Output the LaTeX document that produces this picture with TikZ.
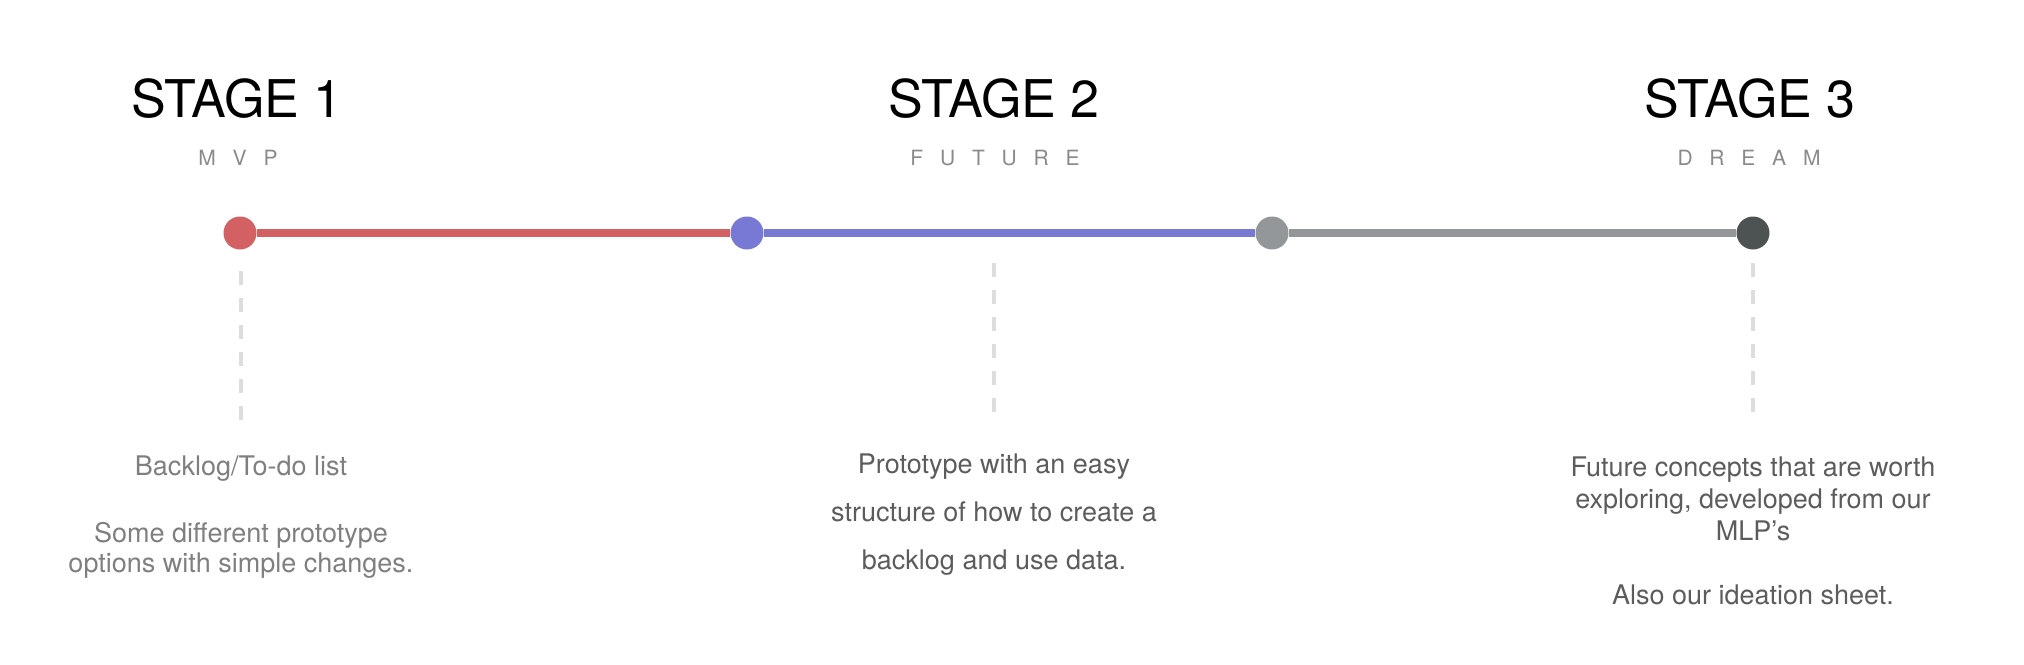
\documentclass[tikz,border=0pt]{standalone}
\usepackage{fontspec}
\setmainfont{TeX Gyre Heros}
\newfontfamily\spacedfont[LetterSpace=80]{TeX Gyre Heros}
\usetikzlibrary{positioning}
\definecolor{mvpred}{HTML}{D36063}
\definecolor{futblue}{HTML}{7879D4}
\definecolor{dreamgray}{HTML}{939799}
\definecolor{enddark}{HTML}{4D5352}
\definecolor{guidegray}{HTML}{DDDDDD}
\definecolor{subgray}{HTML}{8A8A8A}
\definecolor{lighttext}{HTML}{7F7F7F}
\definecolor{darktext}{HTML}{5C5C5C}

\begin{document}
\begin{tikzpicture}[
    x=0.5pt, y=-0.5pt,
    dot/.style    = {circle, fill=#1, minimum size=16.5pt, inner sep=0pt},
    track/.style  = {draw=#1, line width=4pt},
    guide/.style  = {draw=guidegray, line width=2pt, dash pattern=on 7pt off 6.5pt},
    title/.style  = {font=\fontsize{26}{30}\selectfont, anchor=base, inner sep=0pt},
    subtitle/.style = {font=\spacedfont\fontsize{10.5}{12}\selectfont, text=subgray,
                       anchor=base, inner sep=0pt},
    body/.style   = {align=center, anchor=north, inner sep=0pt},
  ]
  \useasboundingbox (0,0) rectangle (2024,664);

  % --- Stage headings --------------------------------------------------
  \node[title] (stage1) at (237,117) {STAGE 1};
  \node[title] (stage2) at (994,117) {STAGE 2};
  \node[title] (stage3) at (1750,117) {STAGE 3};

  \node[subtitle] (mvp)    at (238,165)  {MVP};
  \node[subtitle] (future) at (995,165)  {FUTURE};
  \node[subtitle] (dream)  at (1749,165) {DREAM};

  % --- Timeline --------------------------------------------------------
  \node[dot=mvpred]    (d1) at (240,233)  {};
  \node[dot=futblue]   (d2) at (747,233)  {};
  \node[dot=dreamgray] (d3) at (1272,233) {};
  \node[dot=enddark]   (d4) at (1753,233) {};

  \draw[track=mvpred]    (d1) -- (d2);
  \draw[track=futblue]   (d2) -- (d3);
  \draw[track=dreamgray] (d3) -- (d4);

  % --- Guides down to the notes ----------------------------------------
  \coordinate (g1t) at (241,271);  \coordinate (g1b) at (241,423);
  \coordinate (g2t) at (994,263);  \coordinate (g2b) at (994,415);
  \coordinate (g3t) at (1753,263); \coordinate (g3b) at (1753,415);
  \foreach \g in {g1,g2,g3}{
    \draw[guide] (\g t) -- (\g b);
  }

  % --- Notes -----------------------------------------------------------
  \node[body, text=lighttext, font=\fontsize{13.5}{15}\selectfont] (note1) at (241,455)
    {Backlog/To-do list\\[18.5pt]Some different prototype\\options with simple changes.};
  \node[body, text=darktext, font=\fontsize{13.5}{24}\selectfont] (note2) at (994,453)
    {Prototype with an easy\\structure of how to create a\\backlog and use data.};
  \node[body, text=darktext, font=\fontsize{13.5}{16}\selectfont] (note3) at (1753,456)
    {Future concepts that are worth\\exploring, developed from our\\MLP’s\\[16pt]Also our ideation sheet.};

\end{tikzpicture}
\end{document}
